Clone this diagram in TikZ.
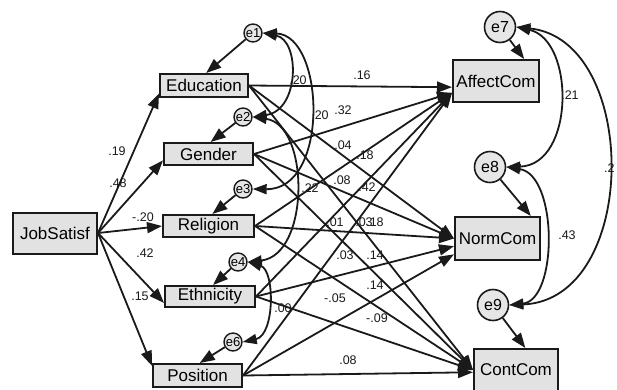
\documentclass[tikz,border=0pt]{standalone}
\usepackage{fontspec}
\setmainfont{Liberation Sans}
\usetikzlibrary{arrows.meta}
\definecolor{BoxFill}{HTML}{E2E2E2}
\definecolor{ErrFill}{HTML}{E6E6E6}
\definecolor{Ink}{HTML}{1A1A1A}

\begin{document}
\begin{tikzpicture}[x=1pt,y=-1pt,
    obs/.style={draw=Ink,fill=BoxFill,line width=2pt,inner sep=1pt,
                font=\fontsize{17}{20}\selectfont},
    errs/.style={circle,draw=Ink,fill=ErrFill,line width=1.4pt,minimum size=18pt,
                 inner sep=0pt,font=\fontsize{13}{13}\selectfont},
    errb/.style={circle,draw=Ink,fill=ErrFill,line width=1.6pt,minimum size=31pt,
                 inner sep=0pt,font=\fontsize{16}{16}\selectfont},
    eff/.style={-{Triangle[length=15pt,width=11pt]},line width=1.8pt,draw=Ink},
    cov/.style={{Triangle[length=14pt,width=10pt]}-{Triangle[length=14pt,width=10pt]},
                line width=1.8pt,draw=Ink},
    coef/.style={font=\fontsize{12.5}{13}\selectfont,inner sep=0pt,text=Ink}
  ]
  \useasboundingbox (0,0) rectangle (617,389);

  % observed variables
  \node[obs,minimum width=84pt,minimum height=41pt] (JobSatisf) at (55,233)    {JobSatisf};
  \node[obs,minimum width=88pt,minimum height=23pt] (Education) at (204,85.5)  {Education};
  \node[obs,minimum width=89pt,minimum height=22pt] (Gender)    at (208.5,154) {Gender};
  \node[obs,minimum width=91pt,minimum height=22pt] (Religion)  at (208.5,226) {Religion};
  \node[obs,minimum width=90pt,minimum height=21pt] (Ethnicity) at (210,296.5) {Ethnicity};
  \node[obs,minimum width=89pt,minimum height=23pt] (Position)  at (197.5,375.5) {Position};
  \node[obs,minimum width=86pt,minimum height=42pt] (AffectCom) at (496,81)    {AffectCom};
  \node[obs,minimum width=85pt,minimum height=43pt] (NormCom)   at (497.5,238.5) {NormCom};
  \node[obs,minimum width=84pt,minimum height=42pt] (ContCom)   at (516,370)   {ContCom};

  % error terms
  \node[errs] (e1) at (253,33)  {e1};
  \node[errs] (e2) at (243,117) {e2};
  \node[errs] (e3) at (243,189) {e3};
  \node[errs] (e4) at (238,262) {e4};
  \node[errs] (e6) at (233,342) {e6};
  \node[errb] (e7) at (500,27)  {e7};
  \node[errb] (e8) at (490,167) {e8};
  \node[errb] (e9) at (493,305) {e9};

  \draw[eff] (e1) -- (Education.80);
  \draw[eff] (e2) -- (Gender.80);
  \draw[eff] (e3) -- (Religion.72);
  \draw[eff] (e4) -- (Ethnicity.75);
  \draw[eff] (e6) -- (Position.80);
  \draw[eff] (e7) -- (AffectCom.38);
  \draw[eff] (e8) -- (NormCom.34);
  \draw[eff] (e9) -- (ContCom.67);

  % JobSatisf -> mediators
  \draw[eff] (JobSatisf.east) -- (Education.190);
  \draw[eff] (JobSatisf.east) -- (Gender.188);
  \draw[eff] (JobSatisf.east) -- (Religion.west);
  \draw[eff] (JobSatisf.east) -- (Ethnicity.188);
  \draw[eff] (JobSatisf.east) -- (Position.168);

  % mediators -> commitment
  \draw[eff] (Education.east) -- (AffectCom.188);
  \draw[eff] (Education.east) -- (NormCom.west);
  \draw[eff] (Education.east) -- (ContCom.west);
  \draw[eff] (Gender.east) -- (AffectCom.195);
  \draw[eff] (Gender.east) -- (NormCom.west);
  \draw[eff] (Gender.east) -- (ContCom.west);
  \draw[eff] (Religion.east) -- (AffectCom.195);
  \draw[eff] (Religion.east) -- (NormCom.west);
  \draw[eff] (Religion.east) -- (ContCom.west);
  \draw[eff] (Ethnicity.east) -- (AffectCom.195);
  \draw[eff] (Ethnicity.east) -- (NormCom.190);
  \draw[eff] (Ethnicity.east) -- (ContCom.west);
  \draw[eff] (Position.east) -- (AffectCom.195);
  \draw[eff] (Position.east) -- (NormCom.200);
  \draw[eff] (Position.east) -- (ContCom.183);

  % covariances
  \draw[cov] (e1.east) .. controls (300,40) and (300,110) .. (e2.east);
  \draw[cov] (e1.east) .. controls (325,35) and (330,190) .. (e3.east);
  \draw[cov] (e2.east) .. controls (310,125) and (310,255) .. (e4.east);
  \draw[cov] (e4.east) .. controls (275,270) and (275,335) .. (e6.east);
  \draw[cov] (e7.east) .. controls (575,40) and (575,165) .. (e8.east);
  \draw[cov] (e7.east) .. controls (640,40) and (640,300) .. (e9.east);
  \draw[cov] (e8.east) .. controls (558,175) and (558,300) .. (e9.east);

  % coefficients
  \node[coef] (cJE) at (117,151) {.19};
  \node[coef] (cJG) at (118,183) {.48};
  \node[coef] (cJR) at (143,217) {-.20};
  \node[coef] (cJT) at (145,253) {.42};
  \node[coef] (cJP) at (140,296) {.15};
  \node[coef] (cEA) at (362,75)  {.16};
  \node[coef] (c12) at (298,80)  {.20};
  \node[coef] (c13) at (320,115) {.20};
  \node[coef] (cGA) at (343,110) {.32};
  \node[coef] (cEN) at (343,145) {.04};
  \node[coef] (cRA) at (365,155) {.18};
  \node[coef] (cGN) at (342,180) {.08};
  \node[coef] (cTA) at (367,187) {.42};
  \node[coef] (c24) at (310,188) {.22};
  \node[coef] (cRN) at (335,222) {.01};
  \node[coef] (cPA) at (364,222) {.03};
  \node[coef] (cEC) at (375,222) {.18};
  \node[coef] (cGC) at (345,255) {.03};
  \node[coef] (cTN) at (375,255) {.14};
  \node[coef] (cPN) at (375,285) {.14};
  \node[coef] (cRC) at (335,298) {-.05};
  \node[coef] (cTC) at (377,318) {-.09};
  \node[coef] (c46) at (283,308) {.00};
  \node[coef] (cPC) at (348,360) {.08};
  \node[coef] (c78) at (570,95)  {.21};
  \node[coef] (c89) at (567,235) {.43};
  \node[coef,anchor=west] (c79) at (604,168) {.2};
\end{tikzpicture}
\end{document}
